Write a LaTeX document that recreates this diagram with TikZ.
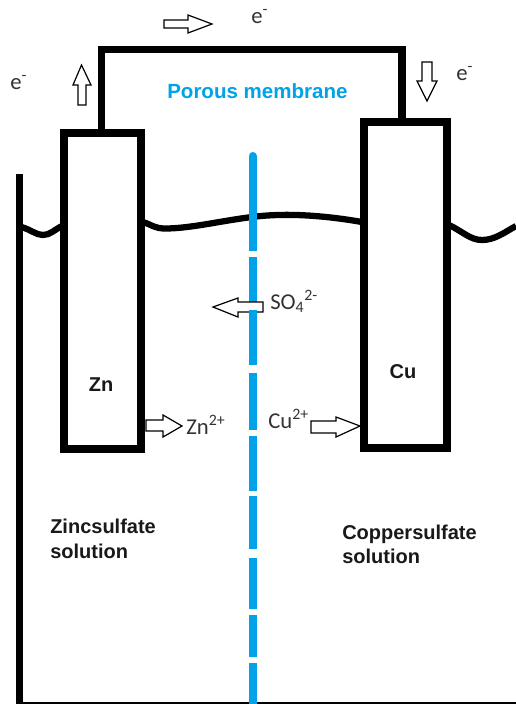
\documentclass[tikz,border=0pt]{standalone}
\usepackage{fontspec}
\setmainfont{Carlito}
\newfontfamily\boldlabel{Liberation Sans}
\definecolor{memblue}{RGB}{0,162,232}
\tikzset{
  wire/.style={line width=5.7pt,black,line join=miter},
  surface/.style={line width=4.7pt,black},
  membrane/.style={line width=6pt,memblue},
  hollow/.style={draw=black,fill=white,line width=0.9pt,line join=miter},
  electrode/.style={draw=black,line width=5.7pt,fill=white,inner sep=0pt,outer sep=0pt},
  ion/.style={inner sep=0pt,anchor=base west,font=\fontsize{17}{17}\selectfont,text=black!80},
  tag/.style={inner sep=0pt,font=\boldlabel\bfseries\fontsize{15}{18.5}\selectfont,text=black!90,align=left},
}
\begin{document}
\begin{tikzpicture}[x=0.75pt,y=-0.75pt]
\useasboundingbox[fill=white] (0,0) rectangle (516,704);
% vessel
\coordinate (vtop) at (19.5,174);
\coordinate (vcorner) at (19.5,705.5);
\coordinate (vend) at (516,705.5);
\draw[wire,line width=5.4pt] (vtop) -- (vcorner) -- (vend);
% surface
\draw[surface] (20,226.5) .. controls (32,230) and (36,235) .. (43,235) .. controls (50,235) and (54,230) .. (62,226);
\draw[surface] (143,222) .. controls (152,225) and (155,228.5) .. (165,228.5) .. controls (190,228.5) and (220,221) .. (252,217) .. controls (275,214) and (310,213) .. (362,222);
\draw[surface] (449,225) .. controls (462,231) and (470,240) .. (482,240) .. controls (495,240) and (505,232) .. (516,226);
% electrodes
\node[electrode,minimum width=57.75pt,minimum height=237pt] (zn) at (102.75,291) {};
\node[electrode,minimum width=62.25pt,minimum height=244.5pt] (cu) at (405.5,285) {};
% wire
\coordinate (wl) at (101.5,49.5);
\coordinate (wr) at (402,49.5);
\draw[wire] (zn.north -| wl) -- (wl) -- (wr) -- (cu.north -| wr);
% membrane
\draw[membrane,line cap=round] (252.5,156) -- (252.5,200);
\foreach \a/\b in {198/251,257/302,373/430,436/491,496/549,558/609,615/657,663/704}
  \draw[membrane] (252.5,\a) -- (252.5,\b);
% arrows
\draw[hollow] (78,105) -- (78,85) -- (73,85) -- (81.5,65) -- (91,85) -- (86,85) -- (86,105) -- cycle;
\draw[hollow] (164,20) -- (188,20) -- (188,15) -- (212,24) -- (188,33) -- (188,28) -- (164,28) -- cycle;
\draw[hollow] (422,62) -- (422,81) -- (417,81) -- (427,101) -- (437,81) -- (432,81) -- (432,62) -- cycle;
\draw[hollow] (263,302) -- (238,302) -- (238,298) -- (213,307) -- (238,317) -- (238,312) -- (263,312) -- cycle;
\draw[hollow] (146,420) -- (163,420) -- (163,415) -- (182,426) -- (163,437) -- (163,431) -- (146,431) -- cycle;
\draw[hollow] (311,421) -- (336,421) -- (336,417) -- (360,426) -- (336,437) -- (336,433) -- (311,433) -- cycle;
\draw[membrane] (252.5,309.5) -- (252.5,365);
% labels
\node[ion] (e1) at (251,23) {e\textsuperscript{-}};
\node[ion] (e2) at (10,89) {e\textsuperscript{-}};
\node[ion] (e3) at (456,80) {e\textsuperscript{-}};
\node[ion] (so) at (270,309) {SO\textsubscript{4}\textsuperscript{2-}};
\node[ion] (zi) at (186,434) {Zn\textsuperscript{2+}};
\node[ion] (ci) at (268,428) {Cu\textsuperscript{2+}};
\node[tag,anchor=west,text=memblue,font=\boldlabel\bfseries\fontsize{15.4}{18.5}\selectfont] (pm) at (167,91) {Porous membrane};
\node[tag] (znl) at (101,385) {Zn};
\node[tag] (cul) at (403,372) {Cu};
\node[tag,anchor=north west] (zs) at (50,519) {Zincsulfate\\solution};
\node[tag,anchor=north west] (cs) at (342,524.5) {Coppersulfate\\solution};
\end{tikzpicture}
\end{document}
